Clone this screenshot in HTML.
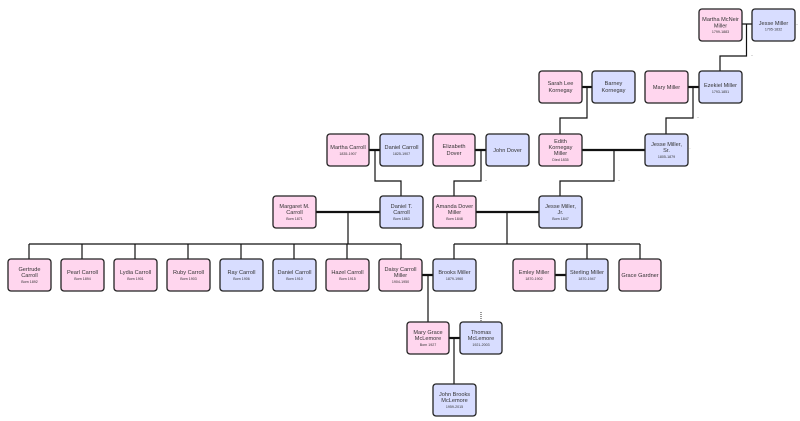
<!DOCTYPE html>
<html><head><meta charset="utf-8"><style>
html,body{margin:0;padding:0;background:#fff;}
svg{display:block;}
text{font-family:"Liberation Sans",sans-serif;text-anchor:middle;fill:#333;}
.n{font-size:5.6px;}
.d{font-size:3.6px;}
.p{fill:#ffd6ee;stroke:#222;stroke-width:1.3;}
.b{fill:#d8ddff;stroke:#222;stroke-width:1.3;}
.l{stroke:#111;stroke-width:1.2;fill:none;}
.t{stroke:#111;stroke-width:2.2;fill:none;}
.g{stroke:#666;stroke-width:1.8;fill:none;}
</style></head><body>
<svg width="800" height="421" viewBox="0 0 800 421" xmlns="http://www.w3.org/2000/svg">
<!-- connectors -->
<path class="l" d="M742 24H752 M746.5 24V56H720V71"/>
<path class="t" d="M688 87H699"/>
<path class="l" d="M693 87V118H666V134"/>
<path class="t" d="M582 87H592"/>
<path class="l" d="M587 87V118H560V134"/>
<path class="t" d="M369 150H380 M475 150H486 M582 150H645"/>
<path class="l" d="M375 150V181H401V196 M481 150V181H454V196 M614 150V181H560V196"/>
<path class="t" d="M316 212H380 M476 212H539"/>
<path class="l" d="M348 212V244 M29 244H401 M29 244V259 M82 244V259 M135 244V259 M188 244V259 M241 244V259 M294 244V259 M347 244V259 M401 244V259"/>
<path class="l" d="M507 212V244 M454 244H640 M454 244V259 M587 244V259 M640 244V259"/>
<path class="t" d="M422 275H433 M555 275H566"/>
<path class="l" d="M428 275V322"/>
<path class="t" d="M449 338H460"/>
<path class="l" d="M454 338V384"/>
<path d="M481 312V322" stroke="#555" stroke-width="1.2" stroke-dasharray="1,1"/>
<g fill="#555" font-size="3"><text x="797" y="26" class="d">··</text><text x="752" y="57" class="d">··</text><text x="698" y="119" class="d">··</text><text x="690" y="150" class="d">·</text><text x="486" y="182" class="d">··</text><text x="619" y="182" class="d">··</text></g>
<!-- boxes -->
<g>
<rect class="p" x="699" y="9" width="43" height="32" rx="3"/><text class="n" x="720.5" y="21">Martha McNeir</text><text class="n" x="720.5" y="27.5">Miller</text><text class="d" x="720.5" y="33">1799-1883</text>
<rect class="b" x="752" y="9" width="43" height="32" rx="3"/><text class="n" x="773.5" y="25">Jesse Miller</text><text class="d" x="773.5" y="30.5">1795-1832</text>

<rect class="p" x="539" y="71" width="43" height="32" rx="3"/><text class="n" x="560.5" y="85">Sarah Lee</text><text class="n" x="560.5" y="92">Kornegay</text>
<rect class="b" x="592" y="71" width="43" height="32" rx="3"/><text class="n" x="613.5" y="85">Barney</text><text class="n" x="613.5" y="92">Kornegay</text>
<rect class="p" x="645" y="71" width="43" height="32" rx="3"/><text class="n" x="666.5" y="89">Mary Miller</text>
<rect class="b" x="699" y="71" width="43" height="32" rx="3"/><text class="n" x="720.5" y="87">Ezekiel Miller</text><text class="d" x="720.5" y="93">1793-1851</text>

<rect class="p" x="327" y="134" width="42" height="32" rx="3"/><text class="n" x="348" y="149">Martha Carroll</text><text class="d" x="348" y="155">1835-1907</text>
<rect class="b" x="380" y="134" width="43" height="32" rx="3"/><text class="n" x="401.5" y="149">Daniel Carroll</text><text class="d" x="401.5" y="155">1825-1907</text>
<rect class="p" x="433" y="134" width="42" height="32" rx="3"/><text class="n" x="454" y="148">Elizabeth</text><text class="n" x="454" y="155">Dover</text>
<rect class="b" x="486" y="134" width="43" height="32" rx="3"/><text class="n" x="507.5" y="152">John Dover</text>
<rect class="p" x="539" y="134" width="43" height="32" rx="3"/><text class="n" x="560.5" y="143">Edith</text><text class="n" x="560.5" y="149">Kornegay</text><text class="n" x="560.5" y="155">Miller</text><text class="d" x="560.5" y="161">Died 1835</text>
<rect class="b" x="645" y="134" width="43" height="32" rx="3"/><text class="n" x="666.5" y="146">Jesse Miller,</text><text class="n" x="666.5" y="152">Sr.</text><text class="d" x="666.5" y="158">1805-1879</text>

<rect class="p" x="273" y="196" width="43" height="32" rx="3"/><text class="n" x="294.5" y="208">Margaret M.</text><text class="n" x="294.5" y="214">Carroll</text><text class="d" x="294.5" y="220">Born 1871</text>
<rect class="b" x="380" y="196" width="43" height="32" rx="3"/><text class="n" x="401.5" y="208">Daniel T.</text><text class="n" x="401.5" y="214">Carroll</text><text class="d" x="401.5" y="220">Born 1863</text>
<rect class="p" x="433" y="196" width="43" height="32" rx="3"/><text class="n" x="454.5" y="208">Amanda Dover</text><text class="n" x="454.5" y="214">Miller</text><text class="d" x="454.5" y="220">Born 1848</text>
<rect class="b" x="539" y="196" width="43" height="32" rx="3"/><text class="n" x="560.5" y="208">Jesse Miller,</text><text class="n" x="560.5" y="214">Jr.</text><text class="d" x="560.5" y="220">Born 1847</text>

<rect class="p" x="8" y="259" width="43" height="32" rx="3"/><text class="n" x="29.5" y="271">Gertrude</text><text class="n" x="29.5" y="277">Carroll</text><text class="d" x="29.5" y="283">Born 1892</text>
<rect class="p" x="61" y="259" width="43" height="32" rx="3"/><text class="n" x="82.5" y="274">Pearl Carroll</text><text class="d" x="82.5" y="280">Born 1894</text>
<rect class="p" x="114" y="259" width="43" height="32" rx="3"/><text class="n" x="135.5" y="274">Lydia Carroll</text><text class="d" x="135.5" y="280">Born 1901</text>
<rect class="p" x="167" y="259" width="43" height="32" rx="3"/><text class="n" x="188.5" y="274">Ruby Carroll</text><text class="d" x="188.5" y="280">Born 1903</text>
<rect class="b" x="220" y="259" width="43" height="32" rx="3"/><text class="n" x="241.5" y="274">Ray Carroll</text><text class="d" x="241.5" y="280">Born 1906</text>
<rect class="b" x="273" y="259" width="43" height="32" rx="3"/><text class="n" x="294.5" y="274">Daniel Carroll</text><text class="d" x="294.5" y="280">Born 1910</text>
<rect class="p" x="326" y="259" width="43" height="32" rx="3"/><text class="n" x="347.5" y="274">Hazel Carroll</text><text class="d" x="347.5" y="280">Born 1915</text>
<rect class="p" x="379" y="259" width="43" height="32" rx="3"/><text class="n" x="400.5" y="271">Daisy Carroll</text><text class="n" x="400.5" y="277">Miller</text><text class="d" x="400.5" y="283">1904-1950</text>
<rect class="b" x="433" y="259" width="43" height="32" rx="3"/><text class="n" x="454.5" y="274">Brooks Miller</text><text class="d" x="454.5" y="280">1879-1960</text>
<rect class="p" x="513" y="259" width="42" height="32" rx="3"/><text class="n" x="534" y="274">Emley Miller</text><text class="d" x="534" y="280">1870-1902</text>
<rect class="b" x="566" y="259" width="42" height="32" rx="3"/><text class="n" x="587" y="274">Sterling Miller</text><text class="d" x="587" y="280">1870-1947</text>
<rect class="p" x="619" y="259" width="42" height="32" rx="3"/><text class="n" x="640" y="277">Grace Gardner</text>

<rect class="p" x="407" y="322" width="42" height="32" rx="3"/><text class="n" x="428" y="334">Mary Grace</text><text class="n" x="428" y="340">McLemore</text><text class="d" x="428" y="346">Born 1927</text>
<rect class="b" x="460" y="322" width="42" height="32" rx="3"/><text class="n" x="481" y="334">Thomas</text><text class="n" x="481" y="340">McLemore</text><text class="d" x="481" y="346">1921-2003</text>
<rect class="b" x="433" y="384" width="43" height="32" rx="3"/><text class="n" x="454.5" y="396">John Brooks</text><text class="n" x="454.5" y="402">McLemore</text><text class="d" x="454.5" y="408">1959-2015</text>
</g>
</svg>
</body></html>
